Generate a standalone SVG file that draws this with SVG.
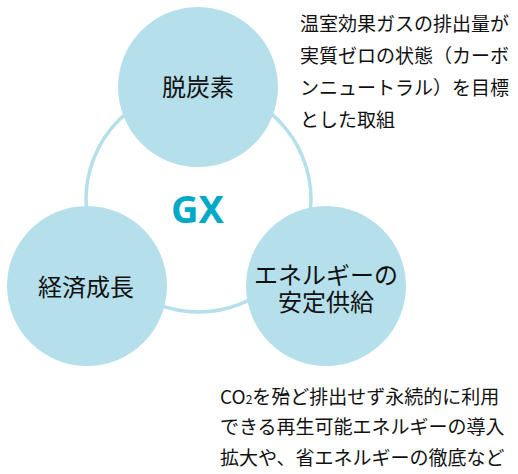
<svg xmlns="http://www.w3.org/2000/svg" width="518" height="474" viewBox="0 0 518 474">
<style>
.node{fill:#b5dfea}
.ring{fill:none;stroke:#b5dfea;stroke-width:3.5}
.lbl{font-family:"Noto Sans CJK JP","Noto Sans",sans-serif;font-size:24px;fill:#111;text-anchor:middle;dominant-baseline:central}
.desc{font-family:"Noto Sans CJK JP","Noto Sans",sans-serif;font-size:19px;fill:#111;dominant-baseline:central}
.gx{font-family:"Noto Sans","Open Sans",sans-serif;font-weight:bold;font-size:38px;fill:#00a9c8;text-anchor:middle}
</style>
<rect width="518" height="474" fill="#fff"/>
<g id="connectors">
<circle class="ring" cx="198.5" cy="199.5" r="112.5"/>
</g>
<g id="node-datsutanso">
<circle class="node" cx="198" cy="87" r="80"/>
<text class="lbl" x="198" y="85">脱炭素</text>
</g>
<g id="node-keizai">
<circle class="node" cx="87" cy="286" r="80"/>
<text class="lbl" x="86" y="285">経済成長</text>
</g>
<g id="node-energy">
<circle class="node" cx="326" cy="286" r="80"/>
<text class="lbl" x="326" y="273">エネルギーの<tspan x="326" dy="27">安定供給</tspan></text>
</g>
<g id="title">
<text class="gx" x="197.5" y="223">GX</text>
</g>
<g id="desc-top">
<text class="desc" x="300" y="22.5">温室効果ガスの排出量が</text>
<text class="desc" x="300" y="54.5">実質ゼロの状態（カーボ</text>
<text class="desc" x="300" y="86.5">ンニュートラル）を目標</text>
<text class="desc" x="300" y="118.5">とした取組</text>
</g>
<g id="desc-bottom">
<text class="desc" x="220" y="395">CO<tspan font-size="12" dy="3">2</tspan><tspan dy="-3">を殆ど排出せず永続的に利用</tspan></text>
<text class="desc" x="220" y="425.5">できる再生可能エネルギーの導入</text>
<text class="desc" x="220" y="456">拡大や、省エネルギーの徹底など</text>
</g>
</svg>
